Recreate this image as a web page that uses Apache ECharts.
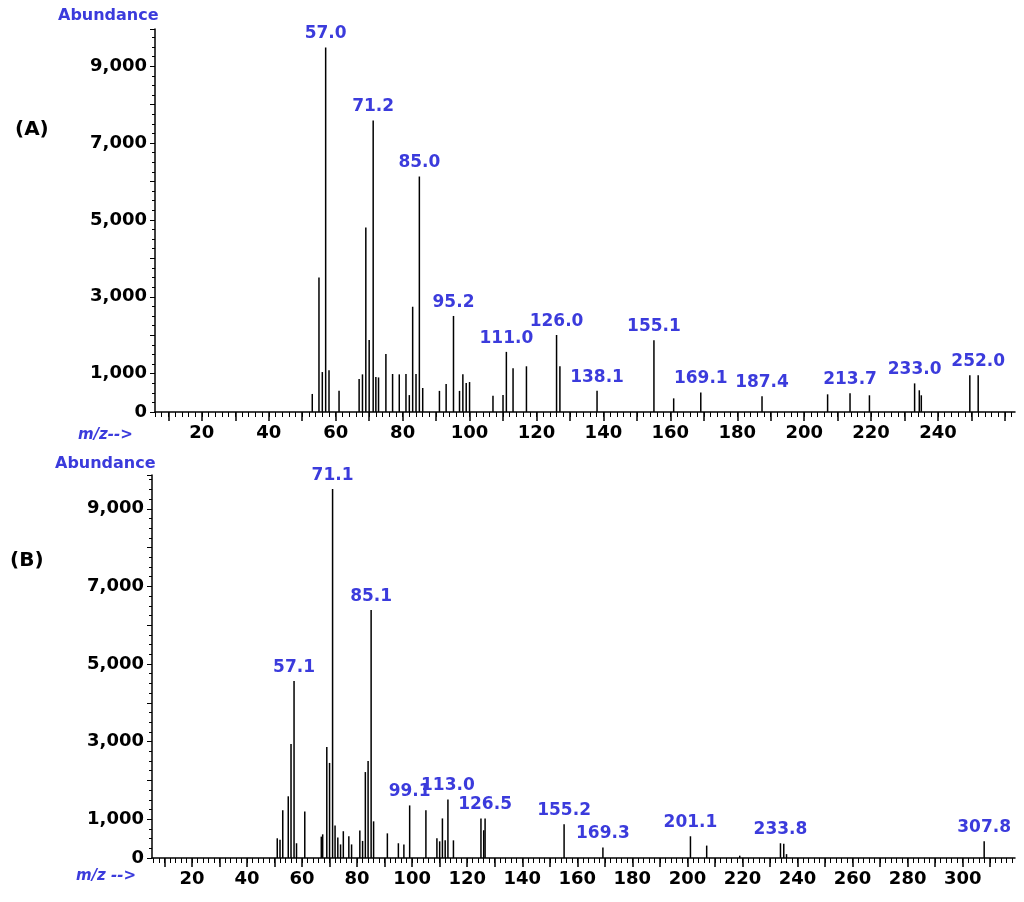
<!DOCTYPE html>
<html>
<head>
<meta charset="utf-8">
<script src="https://cdn.jsdelivr.net/npm/echarts@6/dist/echarts.min.js"></script>
<style>html,body{margin:0;background:#fff}#c{width:1024px;height:902px}</style>
</head>
<body>
<div id="c"></div>
<script>
// spectrum A
const aMz = [53, 55, 56, 57.0, 58, 61, 67, 68, 69, 70, 71.2, 72, 72.8, 75, 77, 79, 81, 82, 83, 84, 85.0, 86,
  91, 93, 95.2, 97, 98, 99, 100, 107, 110, 111.0, 113, 117, 126.0, 127, 138.1, 155.1, 161, 169.1, 187.4,
  207, 213.7, 219.5, 233.0, 234.4, 235, 249.5, 252.0];
const aAbund = [470, 3500, 1040, 9490, 1090, 550, 860, 980, 4800, 1875, 7590, 910, 900, 1510, 990, 980, 990, 440, 2740, 990, 6130, 625,
  550, 730, 2500, 550, 980, 755, 780, 420, 440, 1565, 1140, 1190, 2005, 1190, 550, 1865, 355, 510, 410,
  460, 485, 435, 745, 565, 435, 955, 955];
const aLabels = [57.0, 71.2, 85.0, 95.2, 111.0, 126.0, 138.1, 155.1, 169.1, 187.4, 213.7, 233.0, 252.0];

// spectrum B
const bMz = [51, 52, 53, 55, 56, 57.1, 58, 61, 67, 67.5, 69, 70, 71.1, 72, 73, 74, 75, 77, 78, 81, 82, 83, 84, 85.1, 86,
  91, 95, 97, 99.1, 105, 109, 110, 111, 112, 113.0, 115, 125, 126, 126.5, 155.2, 169.3, 201.1, 207, 219, 233.8, 235, 236, 307.8];
const bAbund = [508, 470, 1230, 1590, 2940, 4560, 380, 1200, 550, 610, 2860, 2450, 9510, 840, 530, 350, 690, 560, 350, 710, 440, 2215, 2500, 6390, 945,
  635, 380, 350, 1355, 1230, 510, 430, 1020, 455, 1510, 455, 1020, 715, 1020, 870, 270, 560, 320, 60, 380, 370, 100, 430];
const bLabels = [57.1, 71.1, 85.1, 99.1, 113.0, 126.5, 155.2, 169.3, 201.1, 233.8, 307.8];

const yTicks = [0, 1000, 3000, 5000, 7000, 9000];
const blue = '#3b3bdc';

function range(a, b, step) { const r = []; for (let v = a; v <= b; v += step) r.push(v); return r; }

function seriesData(mz, ab, labels) {
  return mz.map((m, i) => ({
    value: [m, ab[i]],
    label: { show: labels.includes(m) }
  }));
}

const xMain = (grid, min, max, last) => ({
  type: 'value', gridIndex: grid, min: min, max: max,
  splitLine: { show: false },
  axisLine: { lineStyle: { color: '#000', width: 1.5 } },
  axisTick: { customValues: range(10, max, 10), length: 9, lineStyle: { color: '#000', width: 1.5 } },
  axisLabel: { customValues: range(20, last, 20), color: '#000', fontWeight: 'bold', fontSize: 18,
    fontFamily: 'DejaVu Sans', margin: 12 }
});
const xMinor = (grid, min, max) => ({
  type: 'value', gridIndex: grid, min: min, max: max, position: 'bottom',
  splitLine: { show: false }, axisLine: { show: false }, axisLabel: { show: false },
  axisTick: { customValues: range(Math.ceil(min / 2) * 2, max, 2), length: 5, lineStyle: { color: '#000' } }
});
const yAx = (grid, max) => ({
  type: 'value', gridIndex: grid, min: 0, max: max, interval: 1000,
  splitLine: { show: false },
  axisLine: { show: true, lineStyle: { color: '#000', width: 1.5 } },
  axisTick: { show: true, length: 5, lineStyle: { color: '#000' } },
  minorTick: { show: true, splitNumber: 4, length: 3, lineStyle: { color: '#000' } },
  axisLabel: { customValues: yTicks, color: '#000', fontWeight: 'bold', fontSize: 18, fontFamily: 'DejaVu Sans',
    formatter: v => v.toLocaleString('en-US'), margin: 8 }
});

const barSeries = (idx, data) => ({
  type: 'bar', xAxisIndex: idx, yAxisIndex: idx / 2, barWidth: 1.5, data: data,
  itemStyle: { color: '#000' },
  label: { position: 'top', distance: 5, color: blue, fontSize: 17, fontWeight: 'bold', fontFamily: 'DejaVu Sans',
    formatter: p => p.value[0].toFixed(1) }
});

const chart = echarts.init(document.getElementById('c'), null, { renderer: 'canvas' });
chart.setOption({
  animation: false,
  grid: [
    { left: 155, right: 9, top: 29, height: 383 },
    { left: 152, right: 9, top: 475, height: 383 }
  ],
  xAxis: [xMain(0, 6, 263, 240), xMinor(0, 6, 263), xMain(1, 5.5, 319, 300), xMinor(1, 5.5, 319)],
  yAxis: [yAx(0, 9970), yAx(1, 9870)],
  series: [
    barSeries(0, seriesData(aMz, aAbund, aLabels)),
    Object.assign(barSeries(2, seriesData(bMz, bAbund, bLabels)), { yAxisIndex: 1 })
  ],
  graphic: [
    { type: 'text', left: 58, top: 8, style: { text: 'Abundance', fill: blue, font: 'bold 16px "DejaVu Sans"' } },
    { type: 'text', left: 55, top: 456, style: { text: 'Abundance', fill: blue, font: 'bold 16px "DejaVu Sans"' } },
    { type: 'text', left: 15, top: 120, style: { text: '(A)', fill: '#000', font: 'bold 20px "DejaVu Sans"' } },
    { type: 'text', left: 10, top: 551, style: { text: '(B)', fill: '#000', font: 'bold 20px "DejaVu Sans"' } },
    { type: 'text', left: 78, top: 428, style: { text: 'm/z-->', fill: blue, font: 'italic bold 15px "DejaVu Sans"' } },
    { type: 'text', left: 76, top: 869, style: { text: 'm/z -->', fill: blue, font: 'italic bold 15px "DejaVu Sans"' } }
  ]
});
</script>
</body>
</html>
